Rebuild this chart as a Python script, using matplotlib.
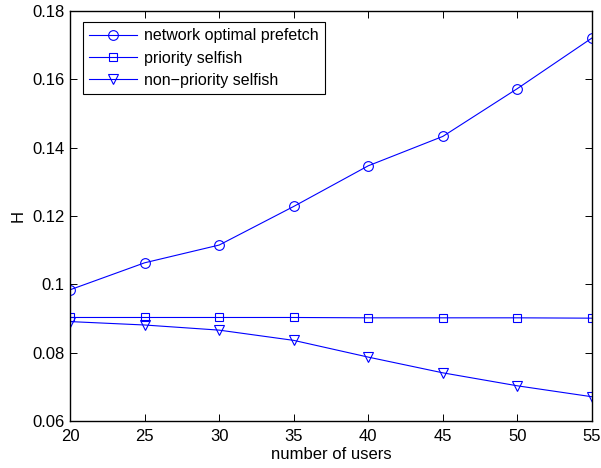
import matplotlib
matplotlib.use("Agg")
import matplotlib.pyplot as plt
from matplotlib.ticker import FuncFormatter

plt.rcParams['font.family'] = ['Liberation Sans', 'DejaVu Sans']

users = [20, 25, 30, 35, 40, 45, 50, 55]
optimal = [0.0984, 0.1063, 0.1115, 0.1228, 0.1347, 0.1433, 0.1573, 0.1721]
priority = [0.0903, 0.0903, 0.0903, 0.0903, 0.0902, 0.0902, 0.0902, 0.0901]
non_priority = [0.0891, 0.0881, 0.0866, 0.0836, 0.0787, 0.0741, 0.0703, 0.0671]

fig = plt.figure(figsize=(6.01, 4.68), dpi=100)
ax = fig.add_axes([0.1165, 0.1004, 0.8685, 0.8761])

ax.plot(users, optimal, color='blue', lw=0.8, marker='o', ms=7,
        mfc='none', mec='blue', mew=0.8, label='network optimal prefetch')
ax.plot(users, priority, color='blue', lw=0.8, marker='s', ms=6,
        mfc='none', mec='blue', mew=0.8, label='priority selfish')
ax.plot(users, non_priority, color='blue', lw=0.8, marker='v', ms=7,
        mfc='none', mec='blue', mew=0.8, label='non\u2212priority selfish')

ax.set_xlim(20, 55)
ax.set_ylim(0.06, 0.18)
ax.set_xticks(range(20, 56, 5))
ax.set_yticks([0.06, 0.08, 0.10, 0.12, 0.14, 0.16, 0.18])
ax.yaxis.set_major_formatter(FuncFormatter(lambda v, p: '%g' % round(v, 2)))
ax.tick_params(direction='in', top=True, right=True, labelsize=12,
               length=5, width=0.7)
ax.tick_params(axis='x', pad=6)
ax.tick_params(axis='y', pad=4)
for s in ax.spines.values():
    s.set_linewidth(1.0)

ax.set_xlabel('number of users', fontsize=12, labelpad=2)
ax.set_ylabel('H', fontsize=12, labelpad=5)

leg = ax.legend(loc='upper left', bbox_to_anchor=(0.025, 0.973),
                borderaxespad=0, fontsize=11.5, handlelength=2.95,
                labelspacing=0.45, fancybox=False, framealpha=1,
                edgecolor='black', borderpad=0.4, handletextpad=0.45)
leg.get_frame().set_linewidth(0.8)

fig.savefig('out.png', dpi=100)
